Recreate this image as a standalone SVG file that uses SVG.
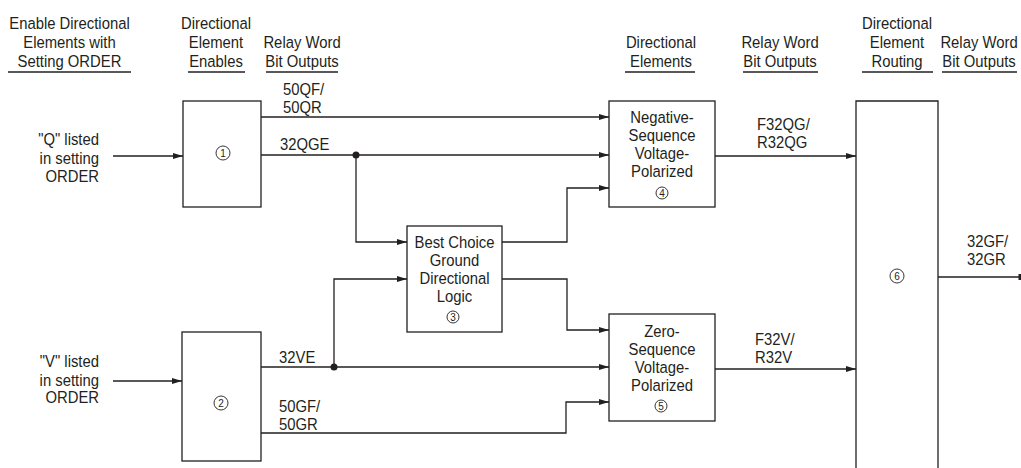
<svg xmlns="http://www.w3.org/2000/svg" width="1021" height="468" viewBox="0 0 1021 468">
<defs>
<marker id="arr" viewBox="0 0 10 6" refX="10" refY="3" markerWidth="10" markerHeight="6" markerUnits="userSpaceOnUse" orient="auto">
<path d="M0,0 L10,3 L0,6 Z" fill="#231f20"/>
</marker>
</defs>
<style>
text{font-family:"Liberation Sans",Arial,sans-serif;font-size:16.5px;fill:#231f20}
.c{text-anchor:middle}
.r{text-anchor:end}
.box{fill:none;stroke:#231f20;stroke-width:1.3}
.ln{fill:none;stroke:#231f20;stroke-width:1.3}
.ul{stroke:#231f20;stroke-width:1.3}
.num{font-size:10px;text-anchor:middle}
.nc{fill:none;stroke:#231f20;stroke-width:0.9}
</style>
<rect width="1021" height="468" fill="#fff"/>
<g id="headers">
<g transform="scale(0.9 1)">
<text class="c" x="77.2" y="29">Enable Directional</text>
<text class="c" x="77.2" y="48.5">Elements with</text>
<text class="c" x="77.2" y="67">Setting ORDER</text>
<text class="c" x="240" y="29">Directional</text>
<text class="c" x="240" y="48.5">Element</text>
<text class="c" x="240" y="67">Enables</text>
<text class="c" x="335.6" y="48.5">Relay Word</text>
<text class="c" x="335.6" y="67">Bit Outputs</text>
<text class="c" x="734.4" y="48.5">Directional</text>
<text class="c" x="734.4" y="67">Elements</text>
<text class="c" x="866.7" y="48.5">Relay Word</text>
<text class="c" x="866.7" y="67">Bit Outputs</text>
<text class="c" x="996.7" y="29">Directional</text>
<text class="c" x="996.7" y="48.5">Element</text>
<text class="c" x="996.7" y="67">Routing</text>
<text class="c" x="1087.8" y="48.5">Relay Word</text>
<text class="c" x="1087.8" y="67">Bit Outputs</text>
</g>
<line class="ul" x1="8" y1="72" x2="131" y2="72"/>
<line class="ul" x1="188" y1="72" x2="245" y2="72"/>
<line class="ul" x1="266" y1="72" x2="338" y2="72"/>
<line class="ul" x1="625" y1="72" x2="695" y2="72"/>
<line class="ul" x1="743" y1="72" x2="818" y2="72"/>
<line class="ul" x1="862" y1="72" x2="933" y2="72"/>
<line class="ul" x1="942" y1="72" x2="1017" y2="72"/>
</g>
<g id="inputs">
<g transform="scale(0.9 1)">
<text class="r" x="110" y="145">"Q" listed</text>
<text class="r" x="110" y="164">in setting</text>
<text class="r" x="110" y="182">ORDER</text>
<text class="r" x="110" y="367">"V" listed</text>
<text class="r" x="110" y="386">in setting</text>
<text class="r" x="110" y="403">ORDER</text>
</g>
</g>
<g id="node1">
<rect class="box" x="183" y="101" width="78" height="106"/>
<circle class="nc" cx="223" cy="153" r="7"/>
<text class="num" x="223" y="156.5">1</text>
</g>
<g id="node2">
<rect class="box" x="182" y="332" width="79" height="129"/>
<circle class="nc" cx="221" cy="403" r="7"/>
<text class="num" x="221" y="406.5">2</text>
</g>
<g id="node3">
<rect class="box" x="407" y="226" width="95" height="106"/>
<g transform="scale(0.9 1)">
<text class="c" x="505" y="248">Best Choice</text>
<text class="c" x="505" y="266">Ground</text>
<text class="c" x="505" y="284">Directional</text>
<text class="c" x="505" y="302">Logic</text>
</g>
<circle class="nc" cx="453" cy="317" r="6"/>
<text class="num" x="453" y="320.5">3</text>
</g>
<g id="node4">
<rect class="box" x="609" y="101" width="106" height="106"/>
<g transform="scale(0.9 1)">
<text class="c" x="735.6" y="123">Negative-</text>
<text class="c" x="735.6" y="141">Sequence</text>
<text class="c" x="735.6" y="159">Voltage-</text>
<text class="c" x="735.6" y="177">Polarized</text>
</g>
<circle class="nc" cx="662" cy="193" r="6"/>
<text class="num" x="662" y="196.5">4</text>
</g>
<g id="node5">
<rect class="box" x="609" y="314" width="106" height="107"/>
<g transform="scale(0.9 1)">
<text class="c" x="735.6" y="337">Zero-</text>
<text class="c" x="735.6" y="355">Sequence</text>
<text class="c" x="735.6" y="373">Voltage-</text>
<text class="c" x="735.6" y="391">Polarized</text>
</g>
<circle class="nc" cx="661" cy="406" r="6"/>
<text class="num" x="661" y="409.5">5</text>
</g>
<g id="node6">
<path class="box" d="M856,468 V101 H938 V468"/>
<circle class="nc" cx="897" cy="276" r="7"/>
<text class="num" x="897" y="279.5">6</text>
</g>
<g id="connectors">
<line class="ln" x1="113" y1="156" x2="183" y2="156" marker-end="url(#arr)"/>
<line class="ln" x1="113" y1="381" x2="182" y2="381" marker-end="url(#arr)"/>
<line class="ln" x1="261" y1="117" x2="609" y2="117" marker-end="url(#arr)"/>
<line class="ln" x1="261" y1="155" x2="609" y2="155" marker-end="url(#arr)"/>
<polyline class="ln" points="356,155 356,242 407,242" marker-end="url(#arr)"/>
<circle cx="356" cy="155" r="3.5" fill="#231f20"/>
<polyline class="ln" points="502,242 567,242 567,188 609,188" marker-end="url(#arr)"/>
<polyline class="ln" points="502,279 567,279 567,330 609,330" marker-end="url(#arr)"/>
<line class="ln" x1="261" y1="367" x2="609" y2="367" marker-end="url(#arr)"/>
<polyline class="ln" points="334,367 334,279 407,279" marker-end="url(#arr)"/>
<circle cx="334" cy="367" r="3.5" fill="#231f20"/>
<polyline class="ln" points="261,433 566,433 566,402 609,402" marker-end="url(#arr)"/>
<line class="ln" x1="715" y1="156" x2="856" y2="156" marker-end="url(#arr)"/>
<line class="ln" x1="715" y1="369" x2="856" y2="369" marker-end="url(#arr)"/>
<line class="ln" x1="938" y1="277" x2="1021" y2="277"/>
<rect x="1018.5" y="274" width="2.5" height="6" fill="#231f20"/>
</g>
<g id="labels">
<g transform="scale(0.9 1)">
<text x="314.4" y="95">50QF/</text>
<text x="314.4" y="113">50QR</text>
<text x="311.1" y="150">32QGE</text>
<text x="310" y="363">32VE</text>
<text x="310" y="412">50GF/</text>
<text x="310" y="430">50GR</text>
<text x="841.1" y="130">F32QG/</text>
<text x="841.1" y="148">R32QG</text>
<text x="838.9" y="345">F32V/</text>
<text x="838.9" y="363">R32V</text>
<text x="1074.4" y="247">32GF/</text>
<text x="1074.4" y="265">32GR</text>
</g>
</g>
</svg>
